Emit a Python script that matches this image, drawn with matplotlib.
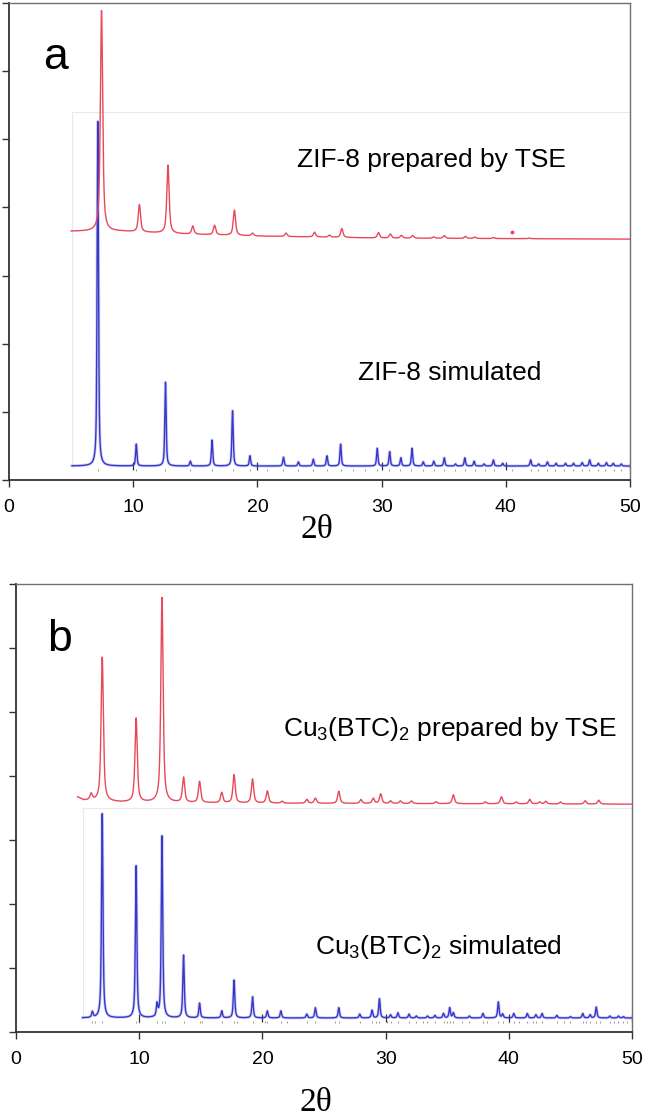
import numpy as np
import matplotlib
matplotlib.use("Agg")
import matplotlib.pyplot as plt

plt.rcParams['font.family'] = ['Liberation Sans', 'DejaVu Sans']
plt.rcParams['mathtext.fontset'] = 'custom'
plt.rcParams['mathtext.rm'] = 'Liberation Sans'
plt.rcParams['mathtext.default'] = 'regular'

# ---------------- DATA ----------------
# Panel a: ZIF-8 prepared by TSE (red)
zif_tse_pos = [7.45, 10.5, 12.8, 14.8, 16.55, 18.15, 19.6, 22.3, 24.6, 25.8, 26.8, 29.75,
               30.7, 31.6, 32.5, 34.2, 35.05, 36.75, 37.5, 39.0, 41.9]
zif_tse_h = [3.24, 0.40, 1.00, 0.12, 0.14, 0.37, 0.04, 0.05, 0.07, 0.03, 0.13, 0.08,
             0.06, 0.04, 0.04, 0.02, 0.04, 0.03, 0.02, 0.015, 0.01]
zif_tse_base_x = [5.0, 9.0, 14.0, 20.0, 30.0, 50.0]
zif_tse_base_y = [3.65, 3.65, 3.61, 3.58, 3.55, 3.535]
zif_tse_spike = (40.5, 3.64)

# Panel a: ZIF-8 simulated (blue)
zif_sim_pos = [7.15, 10.25, 12.6, 14.6, 16.35, 18.0, 19.4, 22.1, 23.3, 24.5, 25.6, 26.7,
               29.65, 30.65, 31.55, 32.45, 33.35, 34.2, 35.05, 35.95, 36.7, 37.45, 38.25,
               39.0, 39.75, 42.0, 42.65, 43.35, 44.05, 44.8, 45.45, 46.15, 46.75, 47.45,
               48.1, 48.65, 49.3]
zif_sim_h = [5.06, 0.32, 1.23, 0.07, 0.38, 0.81, 0.15, 0.13, 0.06, 0.10, 0.15, 0.32,
             0.26, 0.21, 0.12, 0.26, 0.06, 0.07, 0.12, 0.03, 0.12, 0.07, 0.03,
             0.09, 0.04, 0.09, 0.03, 0.06, 0.04, 0.04, 0.04, 0.05, 0.09, 0.04,
             0.05, 0.04, 0.03]
zif_sim_base = 0.205
zif_refl = [7.15, 10.25, 12.6, 14.6, 16.35, 18.0, 19.4, 20.8, 22.1, 23.3, 24.5, 25.6, 26.7,
            27.7, 28.7, 29.65, 30.6, 31.5, 32.4, 33.3, 34.2, 35.0, 35.9, 36.7, 37.5, 38.3,
            39.05, 40.5, 42.0, 42.6, 43.3, 44.0, 44.7, 45.4, 46.1, 46.7, 47.4, 48.0, 48.7, 49.3]

# Panel b: Cu3(BTC)2 prepared by TSE (red)
cu_tse_pos = [6.1, 7.0, 9.75, 11.85, 13.6, 14.9, 16.7, 17.7, 19.2, 20.4, 21.6, 23.6, 24.3,
              26.2, 28.0, 29.0, 29.6, 30.4, 31.2, 32.1, 34.1, 35.5, 38.1, 39.4, 40.6,
              41.7, 42.5, 43.0, 44.2, 46.2, 47.3]
cu_tse_h = [0.10, 2.25, 1.31, 3.20, 0.39, 0.33, 0.16, 0.44, 0.375, 0.19, 0.03, 0.06, 0.08,
            0.19, 0.06, 0.08, 0.15, 0.04, 0.04, 0.04, 0.03, 0.14, 0.03, 0.11, 0.03,
            0.07, 0.03, 0.04, 0.03, 0.05, 0.06]
cu_tse_base_x = [5.0, 5.5, 8.5, 20.0, 50.0]
cu_tse_base_y = [3.67, 3.62, 3.59, 3.575, 3.56]

# Panel b: Cu3(BTC)2 simulated (blue)
cu_sim_pos = [6.2, 7.0, 9.75, 11.45, 11.85, 13.6, 14.9, 16.7, 17.7, 19.2, 20.4, 21.5, 23.6,
              24.3, 26.2, 27.9, 28.9, 29.5, 30.4, 31.0, 31.9, 32.5, 33.4, 34.0, 34.7,
              35.2, 35.5, 36.8, 37.9, 39.15, 39.5, 40.4, 41.5, 42.2, 42.7, 43.9, 45.0,
              46.0, 46.6, 47.1, 48.2, 48.9, 49.3]
cu_sim_h = [0.09, 3.19, 2.375, 0.19, 2.84, 0.98, 0.23, 0.11, 0.59, 0.33, 0.11, 0.11, 0.06,
            0.16, 0.16, 0.06, 0.12, 0.30, 0.05, 0.08, 0.06, 0.03, 0.03, 0.04, 0.07,
            0.16, 0.08, 0.03, 0.07, 0.25, 0.06, 0.07, 0.07, 0.05, 0.07, 0.04, 0.02,
            0.07, 0.05, 0.17, 0.03, 0.03, 0.02]
cu_sim_base = 0.219
cu_refl = cu_sim_pos + [6.4, 10.0, 12.1, 15.1, 17.9, 20.2, 22.0, 25.9, 29.2, 30.1, 33.0,
                        35.0, 36.2, 38.2, 40.0, 40.8, 42.0, 44.5, 46.3, 47.4, 48.5, 49.6]

labels_a = ["ZIF-8 prepared by TSE", "ZIF-8 simulated"]
labels_b = ["Cu$_3$(BTC)$_2$ prepared by TSE", "Cu$_3$(BTC)$_2$ simulated"]
xticks = [0, 10, 20, 30, 40, 50]
xlabel = "2\u03b8"

RED = '#e8485a'
BLUE = '#3838c8'


def profile(x, pos, h, fwhm, eta=0.7):
    y = np.zeros_like(x)
    g = fwhm / 2.0
    for p, a in zip(pos, h):
        d = (x - p) / g
        lor = 1.0 / (1.0 + d ** 2)
        gau = np.exp(-np.log(2) * d ** 2)
        y += a * (eta * lor + (1 - eta) * gau)
    return y


W, H = 645, 1116
fig = plt.figure(figsize=(W / 100, H / 100), dpi=100)
ax_a = fig.add_axes([9 / W, 1 - 480 / H, 621 / W, 477 / H])
ax_b = fig.add_axes([16 / W, 1 - 1032 / H, 616 / W, 448 / H])

for ax in (ax_a, ax_b):
    ax.set_xlim(0, 50)
    ax.set_ylim(0, 7)
    ax.set_xticks(xticks)
    ax.set_yticks(range(0, 8))
    ax.set_yticklabels([])
    ax.tick_params(direction='out', length=5, width=1.0, colors='#333333',
                   labelsize=14, pad=9)
    for s in ('left', 'bottom'):
        ax.spines[s].set_color('#333333')
        ax.spines[s].set_linewidth(1.3)
    for s in ('top', 'right'):
        ax.spines[s].set_color('#707070')
        ax.spines[s].set_linewidth(1.0)
    for lab in ax.get_xticklabels():
        lab.set_color('black')

# ---- panel a ----
xa_red = np.linspace(5.0, 50, 6000)
ya_red = np.interp(xa_red, zif_tse_base_x, zif_tse_base_y) + profile(xa_red, zif_tse_pos, zif_tse_h, 0.22)
xa_blue = np.linspace(5.07, 50, 8000)
ya_blue = zif_sim_base + profile(xa_blue, zif_sim_pos, zif_sim_h, 0.13, eta=0.6)

ax_a.plot([5.07, 5.07, 50], [0.205, 5.40, 5.40], color='#e4eaee', lw=0.8, zorder=1)
ax_a.plot(xa_blue, ya_blue, color='#8080ee', lw=2.2, alpha=0.35, zorder=2)
ax_a.plot(xa_blue, ya_blue, color=BLUE, lw=1.0, zorder=3)
ax_a.plot(zif_refl, [0.147] * len(zif_refl), ls='none', marker='|', ms=1.6,
          mew=0.7, color='#999999', zorder=2)
ax_a.plot(xticks[1:], [zif_sim_base] * 5, ls='none', marker='|', ms=6, mew=0.9,
          color='#333333', zorder=2)
ax_a.plot(xa_red, ya_red, color=RED, lw=1.0, zorder=4)
ax_a.plot([zif_tse_spike[0]], [zif_tse_spike[1]], ls='none', marker='o', ms=1.8,
          color=RED, zorder=4)

# ---- panel b ----
xb_red = np.linspace(5.0, 50, 6000)
yb_red = np.interp(xb_red, cu_tse_base_x, cu_tse_base_y) + profile(xb_red, cu_tse_pos, cu_tse_h, 0.22)
xb_blue = np.linspace(5.4, 50, 8000)
yb_blue = cu_sim_base + profile(xb_blue, cu_sim_pos, cu_sim_h, 0.14, eta=0.7)

ax_b.plot([5.4, 5.4], [0.219, 3.5], color='#e4eaee', lw=0.8, zorder=1)
ax_b.plot([5.4, 50], [3.5, 3.5], color='#e4eaee', lw=0.8, zorder=1)
ax_b.plot(xb_blue, yb_blue, color='#8080ee', lw=2.2, alpha=0.35, zorder=2)
ax_b.plot(xb_blue, yb_blue, color=BLUE, lw=1.0, zorder=3)
ax_b.plot(cu_refl, [0.156] * len(cu_refl), ls='none', marker='|', ms=1.6,
          mew=0.7, color='#999999', zorder=2)
ax_b.plot(xticks[1:], [cu_sim_base] * 5, ls='none', marker='|', ms=6, mew=0.9,
          color='#333333', zorder=2)
ax_b.plot(xb_red, yb_red, color=RED, lw=1.0, zorder=4)

# ---- texts ----
def ftext(x, y, s, **kw):
    fig.text(x / W, 1 - y / H, s, **kw)

ftext(43, 69, "a", fontsize=32, va='baseline', ha='left')
ftext(47, 651, "b", fontsize=32, va='baseline', ha='left')
ftext(297, 160, labels_a[0], fontsize=19, va='center', ha='left')
ftext(358, 373, labels_a[1], fontsize=19, va='center', ha='left')
ftext(283, 729, labels_b[0], fontsize=19, va='center', ha='left')
ftext(315, 947, labels_b[1], fontsize=19, va='center', ha='left')
ftext(317, 530, xlabel, fontsize=24, va='center', ha='center', family='Liberation Serif')
ftext(316, 1103, xlabel, fontsize=24, va='center', ha='center', family='Liberation Serif')

fig.savefig("out.png", dpi=100, facecolor='white')
